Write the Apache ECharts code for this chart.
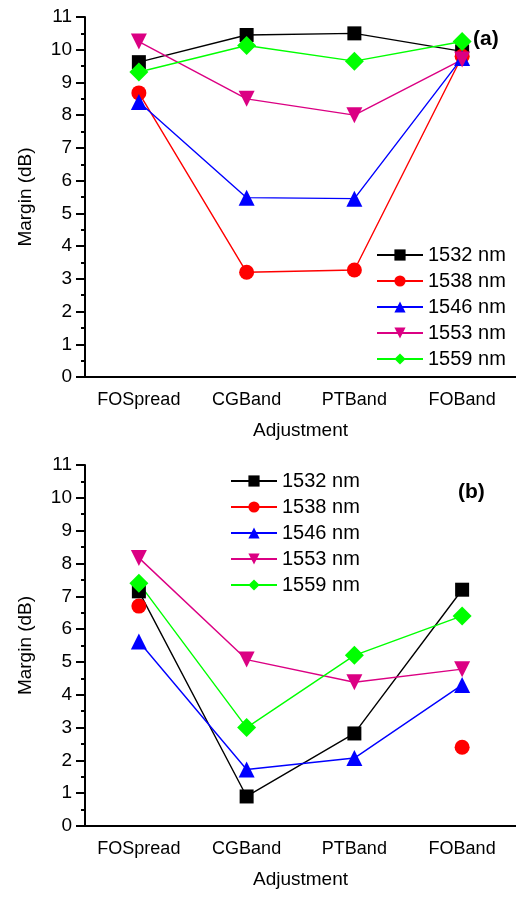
<!DOCTYPE html>
<html>
<head>
<meta charset="utf-8">
<script src="https://cdn.jsdelivr.net/npm/echarts@6/dist/echarts.min.js"></script>
<style>html,body{margin:0;padding:0;background:#fff}#c{width:516px;height:897px}</style>
</head>
<body>
<div id="c"></div>
<script>
const categories = ['FOSpread', 'CGBand', 'PTBand', 'FOBand'];
const seriesNames = ['1532 nm', '1538 nm', '1546 nm', '1553 nm', '1559 nm'];
const yTicks = [0, 1, 2, 3, 4, 5, 6, 7, 8, 9, 10, 11];

// Panel (a)
const a1532 = [9.62, 10.45, 10.5, 9.95];
const a1538 = [8.68, 3.2, 3.27, 9.8];
const a1546 = [8.4, 5.48, 5.45, 9.75];
const a1553 = [10.25, 8.5, 8.0, 9.7];
const a1559 = [9.32, 10.13, 9.65, 10.25];

// Panel (b)
const b1532 = [7.15, 0.9, 2.82, 7.2];
const b1538 = [6.7, null, null, 2.4];
const b1546 = [5.62, 1.72, 2.07, 4.3];
const b1553 = [8.17, 5.07, 4.38, 4.78];
const b1559 = [7.4, 3.0, 5.2, 6.4];

const colors = ['#000000', '#FF0000', '#0000FF', '#DB0083', '#00FF00'];
const symbols = ['rect', 'circle', 'triangle', 'triangle', 'diamond'];
const symRot = [0, 0, 0, 180, 0];
const symSize = [14, 15, 16, 16, 19];
const FONT = '"Liberation Sans", Arial, sans-serif';

const chart = echarts.init(document.getElementById('c'));

function mkX(idx) {
  return {
    type: 'category', gridIndex: idx, data: categories,
    axisLine: { lineStyle: { color: '#000', width: 2 } },
    axisTick: { alignWithLabel: true, interval: 0, length: 7, lineStyle: { color: '#000', width: 2 } },
    axisLabel: { interval: 0, color: '#000', fontSize: 18, fontFamily: FONT, margin: 14 },
    name: 'Adjustment', nameLocation: 'middle', nameGap: 44,
    nameTextStyle: { color: '#000', fontSize: 19, fontFamily: FONT },
    splitLine: { show: false }
  };
}
function mkY(idx) {
  return {
    type: 'value', gridIndex: idx, min: yTicks[0], max: yTicks[yTicks.length - 1], interval: 1,
    axisLine: { show: true, lineStyle: { color: '#000', width: 2 } },
    axisTick: { show: true, length: 9, lineStyle: { color: '#000', width: 2 } },
    minorTick: { show: true, splitNumber: 2, length: 4, lineStyle: { color: '#000', width: 2 } },
    axisLabel: { color: '#000', fontSize: 19, fontFamily: FONT, margin: 13 },
    splitLine: { show: false },
    name: 'Margin (dB)', nameLocation: 'middle', nameGap: 50,
    nameTextStyle: { color: '#000', fontSize: 19, fontFamily: FONT }
  };
}
function mkSeries(dataArrs, idx) {
  return dataArrs.map((d, i) => ({
    name: seriesNames[i], type: 'line', xAxisIndex: idx, yAxisIndex: idx,
    data: d, connectNulls: false,
    symbol: symbols[i], symbolRotate: symRot[i], symbolSize: symSize[i],
    showAllSymbol: true,
    lineStyle: { color: colors[i], width: 1.4 },
    itemStyle: { color: colors[i] },
    emphasis: { disabled: true },
    animation: false
  }));
}
function mkLegend(left, top) {
  return {
    orient: 'vertical', left: left, top: top, padding: 0,
    itemWidth: 46, itemHeight: 14, itemGap: 6,
    data: seriesNames,
    textStyle: { color: '#000', fontSize: 20, fontFamily: FONT, lineHeight: 20 },
    inactiveColor: '#000'
  };
}

chart.setOption({
  animation: false,
  backgroundColor: '#fff',
  title: [
    { text: '(a)', left: 473, top: 29, padding: 0, textStyle: { fontSize: 21, fontWeight: 'bold', fontFamily: FONT, color: '#000' } },
    { text: '(b)', left: 458, top: 482, padding: 0, textStyle: { fontSize: 21, fontWeight: 'bold', fontFamily: FONT, color: '#000' } }
  ],
  grid: [
    { left: 85, top: 17, width: 434, height: 360 },
    { left: 85, top: 465, width: 434, height: 361 }
  ],
  xAxis: [mkX(0), mkX(1)],
  yAxis: [mkY(0), mkY(1)],
  legend: [mkLegend(376, 245), mkLegend(230, 471)],
  series: [].concat(
    mkSeries([a1532, a1538, a1546, a1553, a1559], 0),
    mkSeries([b1532, b1538, b1546, b1553, b1559], 1)
  )
});
</script>
</body>
</html>
